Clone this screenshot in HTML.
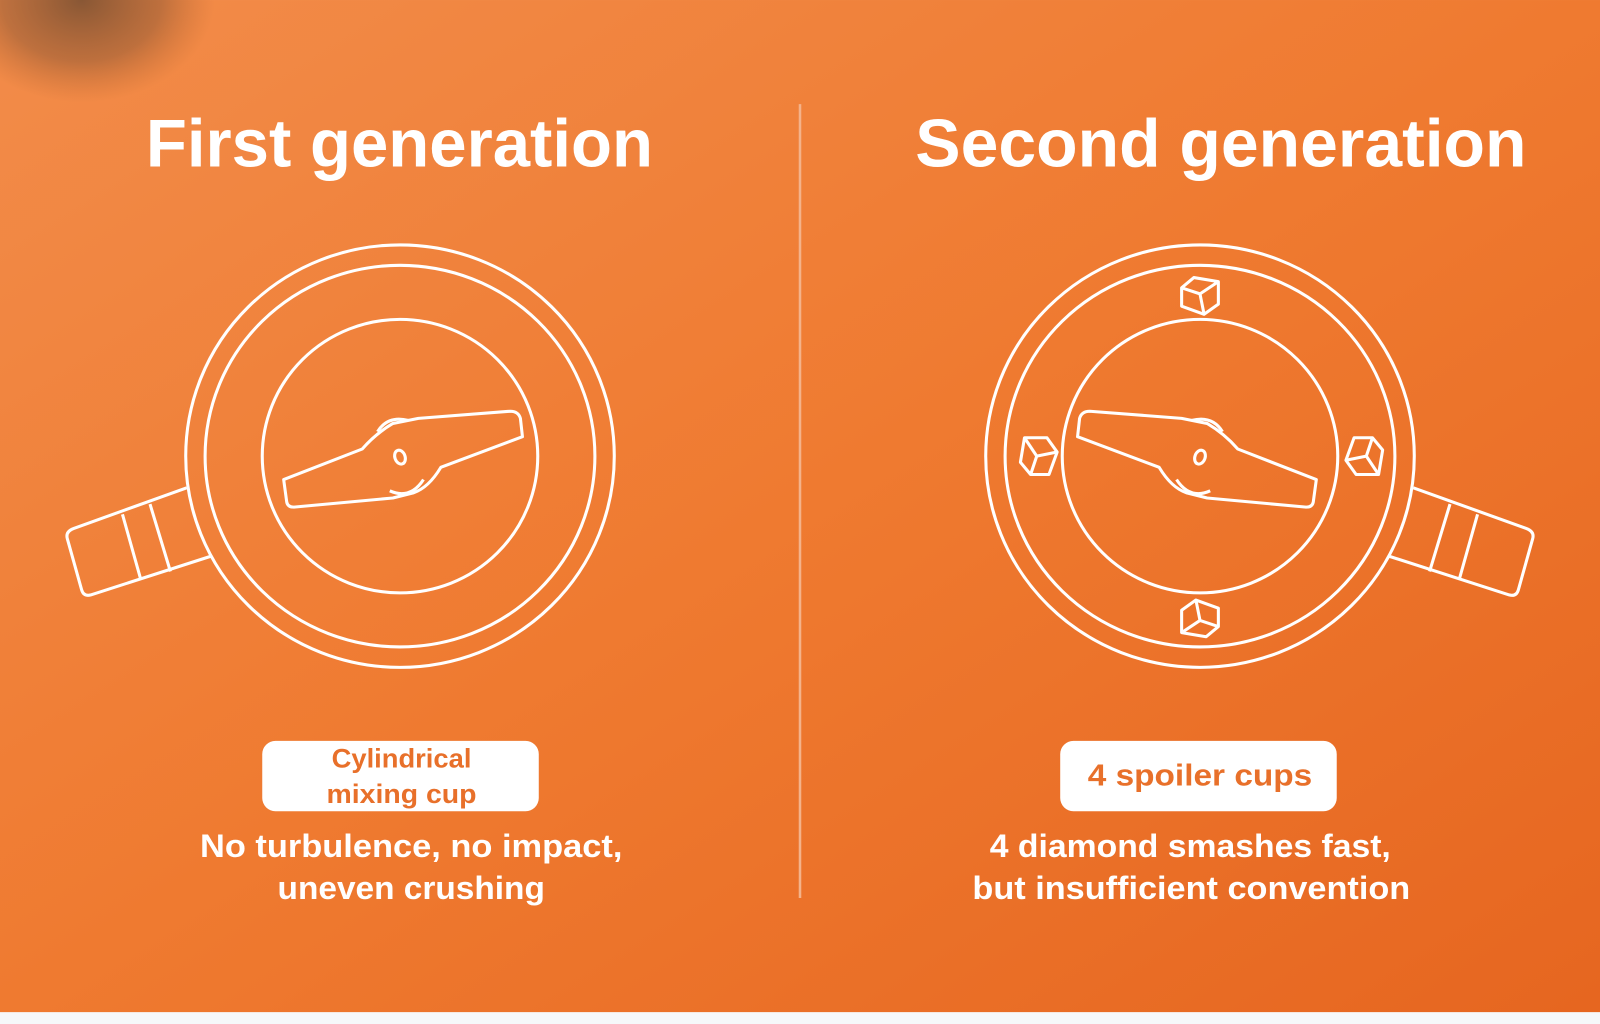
<!DOCTYPE html>
<html><head><meta charset="utf-8"><style>
html,body{margin:0;padding:0;width:1600px;height:1024px;overflow:hidden;background:#fff}
svg{display:block}
text{font-family:"Liberation Sans",sans-serif;font-weight:bold}
</style></head><body>
<svg width="1600" height="1024" viewBox="0 0 1568 1003.5" xmlns="http://www.w3.org/2000/svg">
<defs>
<linearGradient id="bg" x1="0" y1="0" x2="1" y2="1">
<stop offset="0" stop-color="#f28c4a"/>
<stop offset="0.5" stop-color="#ef7a30"/>
<stop offset="1" stop-color="#e66620"/>
</linearGradient>
<radialGradient id="blob" cx="0.5" cy="0.5" r="0.5">
<stop offset="0" stop-color="#6e4a30" stop-opacity="0.8"/>
<stop offset="0.6" stop-color="#8a5533" stop-opacity="0.5"/>
<stop offset="1" stop-color="#b0602e" stop-opacity="0"/>
</radialGradient>
</defs>
<rect x="0" y="0" width="1568" height="992" fill="url(#bg)"/>
<ellipse cx="80" cy="0" rx="130" ry="100" fill="url(#blob)"/>
<rect x="0" y="992" width="1568" height="12" fill="#f6f8fa"/>
<line x1="784" y1="102" x2="784" y2="880" stroke="#f4b28a" stroke-width="2.5"/>

<g fill="#fff">
<text x="143" y="163" font-size="66" textLength="497" lengthAdjust="spacingAndGlyphs">First generation</text>
<text x="897" y="163" font-size="66" textLength="599" lengthAdjust="spacingAndGlyphs">Second generation</text>
<text x="196" y="840" font-size="32" textLength="414" lengthAdjust="spacingAndGlyphs">No turbulence, no impact,</text>
<text x="272" y="881" font-size="32" textLength="262" lengthAdjust="spacingAndGlyphs">uneven crushing</text>
<text x="970" y="840" font-size="32" textLength="393" lengthAdjust="spacingAndGlyphs">4 diamond smashes fast,</text>
<text x="953" y="881" font-size="32" textLength="429" lengthAdjust="spacingAndGlyphs">but insufficient convention</text>
</g>
<rect x="257" y="726" width="271" height="69" rx="13" fill="#fff"/>
<rect x="1039" y="726" width="271" height="69" rx="13" fill="#fff"/>
<g fill="#e8702a">
<text x="325" y="752" font-size="26" textLength="137" lengthAdjust="spacingAndGlyphs">Cylindrical</text>
<text x="320" y="787" font-size="26" textLength="147" lengthAdjust="spacingAndGlyphs">mixing cup</text>
<text x="1066" y="770" font-size="30" textLength="220" lengthAdjust="spacingAndGlyphs">4 spoiler cups</text>
</g>

<g fill="none" stroke="#fff" stroke-width="3" stroke-linejoin="round">
<ellipse cx="392" cy="447" rx="210" ry="207"/>
<ellipse cx="392" cy="447" rx="191" ry="187"/>
<ellipse cx="392" cy="447" rx="135" ry="134"/>
<path d="M183 478 L72 518 Q64 521 66 528 L80 578 Q82 585 89 583 L207 545"/>
<path d="M120 504 L138 568 M147 494 L167 560"/>
<path d="M278 470 L355 440 Q368 425 385 415 L410 410 L500 403 Q508 403 510 410 L512 428 L432 458 Q420 478 405 483 L385 488 L288 497 Q282 497 281 492 Z"/>
<path d="M370 423 Q380 407 400 412 M382 481 Q402 490 415 470"/>
<ellipse cx="392" cy="448" rx="5" ry="7" transform="rotate(-20 392 448)"/>
<ellipse cx="1176" cy="447" rx="210" ry="207"/>
<ellipse cx="1176" cy="447" rx="191" ry="187"/>
<ellipse cx="1176" cy="447" rx="135" ry="134"/>
<path d="M1385 478 L1496 518 Q1504 521 1502 528 L1488 578 Q1486 585 1479 583 L1361 545"/>
<path d="M1448 504 L1430 568 M1421 494 L1401 560"/>
<path d="M1290 470 L1213 440 Q1200 425 1183 415 L1158 410 L1068 403 Q1060 403 1058 410 L1056 428 L1136 458 Q1148 478 1163 483 L1183 488 L1280 497 Q1286 497 1287 492 Z"/>
<path d="M1198 423 Q1188 407 1168 412 M1186 481 Q1166 490 1153 470"/>
<ellipse cx="1176" cy="448" rx="5" ry="7" transform="rotate(20 1176 448)"/>
</g>
<g fill="none" stroke="#fff" stroke-width="3" stroke-linejoin="round">
<g transform="translate(1176 290) rotate(0)"><path d="M-18 -8 L-6 -18 L18 -14 L18 8 L4 18 L-18 10 Z"/><path d="M0 -2 L4 18 M0 -2 L-18 -8 M0 -2 L18 -14"/></g>
<g transform="translate(1176 606) rotate(180)"><path d="M-18 -8 L-6 -18 L18 -14 L18 8 L4 18 L-18 10 Z"/><path d="M0 -2 L4 18 M0 -2 L-18 -8 M0 -2 L18 -14"/></g>
<g transform="translate(1018 447) rotate(-90)"><path d="M-18 -8 L-6 -18 L18 -14 L18 8 L4 18 L-18 10 Z"/><path d="M0 -2 L4 18 M0 -2 L-18 -8 M0 -2 L18 -14"/></g>
<g transform="translate(1337 447) rotate(90)"><path d="M-18 -8 L-6 -18 L18 -14 L18 8 L4 18 L-18 10 Z"/><path d="M0 -2 L4 18 M0 -2 L-18 -8 M0 -2 L18 -14"/></g>
</g>
</svg>
</body></html>
